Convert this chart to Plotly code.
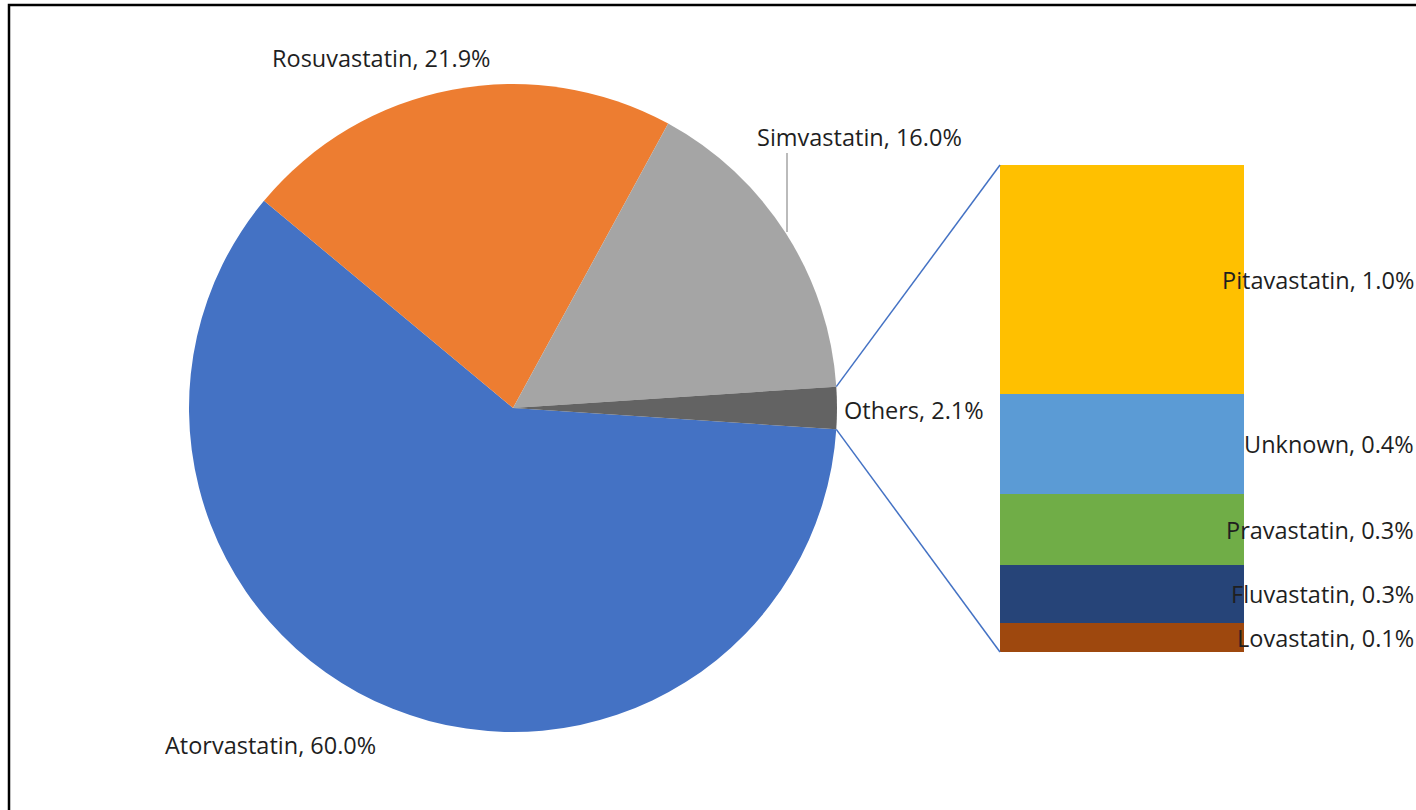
import math
import plotly.graph_objects as go

# ---- data ----
pie_labels = ["Atorvastatin", "Rosuvastatin", "Simvastatin", "Others"]
pie_values = [60.0, 21.9, 16.0, 2.1]
pie_colors = ["#4472C4", "#ED7D31", "#A5A5A5", "#636363"]

bar_labels = ["Lovastatin", "Fluvastatin", "Pravastatin", "Unknown", "Pitavastatin"]
bar_values = [0.125, 0.250, 0.306, 0.431, 0.988]
bar_text = ["0.1%", "0.3%", "0.3%", "0.4%", "1.0%"]
bar_colors = ["#9E480E", "#264478", "#70AD47", "#5B9BD5", "#FFC000"]

pie_text = ["60.0%", "21.9%", "16.0%", "2.1%"]

# ---- layout geometry (pixels) ----
W, H = 1416, 810
PIE_CX, PIE_CY, PIE_R = 513, 408, 324
BAR_X0, BAR_X1, BAR_TOP, BAR_BOT = 1000, 1244, 165, 652
FONT = dict(family="'Open Sans', 'Noto Sans', sans-serif", size=23.5, color="#1f1f1f")


def px(x):
    return x / W


def py(y):
    return 1 - y / H


total = sum(pie_values)
half_angle = pie_values[-1] / total * 180.0  # half of the "Others" slice (degrees)

fig = go.Figure()

fig.add_trace(go.Pie(
    labels=pie_labels,
    values=pie_values,
    sort=False,
    direction="clockwise",
    rotation=90 + half_angle,
    marker=dict(colors=pie_colors, line=dict(width=0)),
    textinfo="none",
    hoverinfo="label+percent",
    showlegend=False,
    domain=dict(x=[px(PIE_CX - PIE_R), px(PIE_CX + PIE_R)],
                y=[py(PIE_CY + PIE_R), py(PIE_CY - PIE_R)]),
))

for lab, val, col in zip(bar_labels, bar_values, bar_colors):
    fig.add_trace(go.Bar(
        x=["Others"], y=[val], name=lab,
        marker=dict(color=col, line=dict(width=0)),
        showlegend=False, xaxis="x", yaxis="y",
    ))

bar_total = sum(bar_values)

fig.update_layout(
    width=W, height=H,
    margin=dict(l=0, r=0, t=0, b=0),
    paper_bgcolor="white", plot_bgcolor="rgba(0,0,0,0)",
    barmode="stack", bargap=0,
    xaxis=dict(domain=[px(BAR_X0), px(BAR_X1)], visible=False, fixedrange=True),
    yaxis=dict(domain=[py(BAR_BOT), py(BAR_TOP)], range=[0, bar_total],
               visible=False, fixedrange=True),
    font=FONT,
)

# connector lines from the "Others" slice edge to the bar corners
a = math.radians(half_angle)
ex = PIE_CX + PIE_R * math.cos(a)
ey_top = PIE_CY - PIE_R * math.sin(a)
ey_bot = PIE_CY + PIE_R * math.sin(a)
fig.add_shape(type="line", xref="paper", yref="paper",
              x0=px(ex), y0=py(ey_top), x1=px(BAR_X0), y1=py(BAR_TOP),
              line=dict(color="#4472C4", width=1.5))
fig.add_shape(type="line", xref="paper", yref="paper",
              x0=px(ex), y0=py(ey_bot), x1=px(BAR_X0), y1=py(BAR_BOT),
              line=dict(color="#4472C4", width=1.5))

# Simvastatin leader line
fig.add_shape(type="line", xref="paper", yref="paper",
              x0=px(787), y0=py(153), x1=px(787), y1=py(232),
              line=dict(color="#A5A5A5", width=1.5))

# outer frame
fig.add_shape(type="rect", xref="paper", yref="paper",
              x0=px(9), y0=-0.05, x1=1.05, y1=py(5),
              line=dict(color="black", width=2.5), fillcolor="rgba(0,0,0,0)")

# pie labels
pie_label_pos = {
    "Atorvastatin": (270, 745, "center"),
    "Rosuvastatin": (381, 58, "center"),
    "Simvastatin": (859, 137, "center"),
    "Others": (842, 410, "left"),
}
for lab, t in zip(pie_labels, pie_text):
    x, y, anc = pie_label_pos[lab]
    fig.add_annotation(x=px(x), y=py(y), xref="paper", yref="paper",
                       text=f"{lab}, {t}", showarrow=False,
                       xanchor=anc, yanchor="middle", font=FONT)

# bar labels, vertically centred on each segment, right aligned
cum = 0.0
for lab, val, t in zip(bar_labels, bar_values, bar_text):
    mid = cum + val / 2
    cum += val
    fig.add_annotation(x=px(W), y=mid, xref="paper", yref="y",
                       text=f"{lab}, {t}", showarrow=False,
                       xanchor="right", yanchor="middle", font=FONT)

fig.write_html(
    "out.html",
    config={"displayModeBar": False},
    post_script="document.body.style.margin='0';document.body.style.overflow='hidden';",
)
